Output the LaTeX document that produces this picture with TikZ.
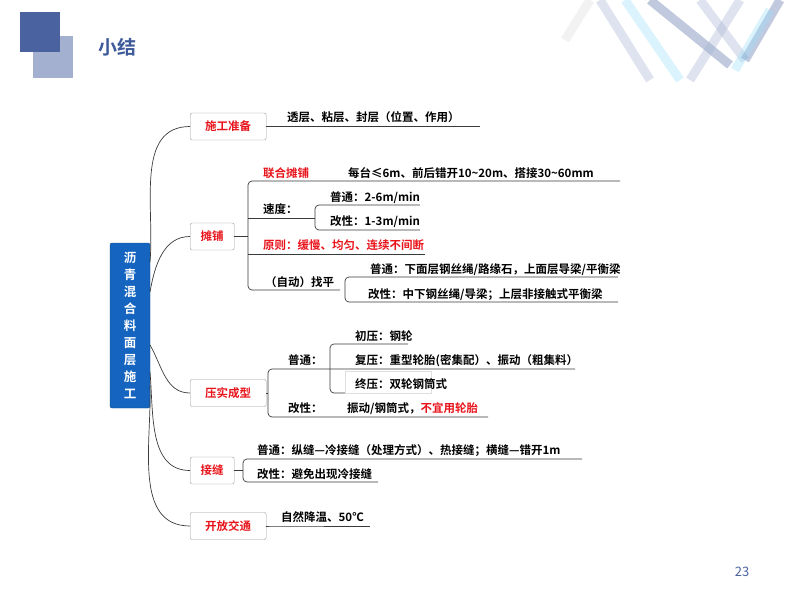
\documentclass[tikz,border=0pt]{standalone}
\usepackage{fontspec}
\setmainfont{Noto Sans CJK SC}[BoldFont={* Bold}]
\newfontfamily\cjkb{Noto Sans CJK SC Bold}
\definecolor{rootblue}{HTML}{1565C0}
\definecolor{titleblue}{HTML}{3F5A9A}
\definecolor{sqdark}{HTML}{4A63A0}
\definecolor{sqlight}{HTML}{A3B0D0}
\definecolor{txtred}{HTML}{E8141B}
\definecolor{lncol}{HTML}{3A3A3A}
\begin{document}
\begin{tikzpicture}[x=1pt,y=-1pt,
  lbox/.style={draw=gray!80,rounded corners=2pt,fill=white,font=\cjkb\fontsize{11.5}{12}\selectfont,text=txtred,minimum height=27pt,inner sep=2pt,anchor=west},
  lbl/.style={font=\cjkb\fontsize{11.5}{12}\selectfont,anchor=base west,inner sep=0pt,text=black},
  ln/.style={draw=lncol,line width=0.7pt},
  br/.style={draw=lncol,line width=0.7pt,rounded corners=4pt}]
\useasboundingbox (0,0) rectangle (800,600);
% header
\fill[sqlight] (33,36) rectangle (73,78);
\fill[sqdark] (20,12) rectangle (60,52);
\node[font=\cjkb\fontsize{19}{20}\selectfont,text=titleblue,anchor=west] (title) at (95,47) {小结};
\begin{scope}[line width=9pt,opacity=0.35]
\draw[sqlight] (600,0) -- (650,80);
\draw[cyan!40] (625,0) -- (680,80);
\draw[sqdark] (650,0) -- (730,65);
\draw[sqlight] (700,0) -- (745,60);
\draw[sqdark] (780,0) -- (745,60);
\draw[cyan!40] (770,10) -- (735,70);
\draw[gray!30] (565,40) -- (590,0);
\draw[sqlight] (690,80) -- (740,0);
\end{scope}
\node[font=\fontsize{13}{14}\selectfont,text=sqdark] (pg) at (742,572) {23};
% root
\node[fill=rootblue,draw=rootblue!70!black,rounded corners=2pt,minimum width=40pt,minimum height=165pt,text=white,font=\cjkb\fontsize{12.5}{17}\selectfont,align=center] (root) at (130,325.5) {沥\\青\\混\\合\\料\\面\\层\\施\\工};
% level 1
\node[lbox,minimum width=76pt] (b1) at (190,126.5) {施工准备};
\node[lbox,minimum width=44pt] (b2) at (190,236.5) {摊铺};
\node[lbox,minimum width=76pt] (b3) at (190,393) {压实成型};
\node[lbox,minimum width=44pt] (b4) at (190,470.5) {接缝};
\node[lbox,minimum width=76pt] (b5) at (190,526) {开放交通};
\draw[ln] (150,262) to[out=85,in=180] (b1.west);
\draw[ln] (150,292) to[out=80,in=180] (b2.west);
\draw[ln] (150,345) to[out=-60,in=180] (b3.west);
\draw[ln] (150,372) to[out=-85,in=180] (b4.west);
\draw[ln] (150,385) to[out=-88,in=180] (b5.west);
% 施工准备
\node[lbl] (t1) at (287,121) {透层、粘层、封层（位置、作用）};
\draw[ln] (b1.east) -- (480,126.5);
% 摊铺
\draw[ln] (b2.east) -- (248,236.5);
\draw[br] (620,181) -- (248,181) -- (248,290) -- (340,290);
\draw[ln] (248,218) -- (315,218);
\draw[ln] (248,254) -- (425,254);
\node[lbl,text=txtred] (lh) at (263,177) {联合摊铺};
\node[lbl] (lh2) at (348,177) {每台≤6m、前后错开10\textasciitilde 20m、搭接30\textasciitilde 60mm};
\node[lbl] (sd) at (263,213) {速度：};
\draw[br] (420,205) -- (315,205) -- (315,230) -- (420,230);
\node[lbl] (sd1) at (330,201) {普通：2-6m/min};
\node[lbl] (sd2) at (330,225) {改性：1-3m/min};
\node[lbl,text=txtred] (yz) at (263,249) {原则：缓慢、均匀、连续不间断};
\node[lbl] (zp) at (265,286) {（自动）找平};
\draw[br] (618,277) -- (345,277) -- (345,302) -- (618,302);
\node[lbl] (zp1) at (370,273) {普通：下面层钢丝绳/路缘石，上面层导梁/平衡梁};
\node[lbl] (zp2) at (368,298) {改性：中下钢丝绳/导梁；上层非接触式平衡梁};
% 压实成型
\draw[ln] (b3.east) -- (268,393);
\draw[br] (575,369) -- (268,369) -- (268,417) -- (488,417);
\node[lbl] (pt) at (288,364) {普通：};
\draw[br] (408,344) -- (330,344) -- (330,393) -- (345,393);
\node[draw=gray!25,inner sep=3pt,minimum height=22pt,anchor=west] (zy) at (345,382) {\phantom{终压：双轮钢筒式}};
\node[lbl] (cy) at (355,340) {初压：钢轮};
\node[lbl] (fy) at (355,364) {复压：重型轮胎(密集配）、振动（粗集料）};
\node[lbl] (zy2) at (355,388) {终压：双轮钢筒式};
\node[lbl] (gx) at (288,412) {改性：};
\node[lbl] (gx2) at (347,412) {振动/钢筒式，\textcolor{txtred}{不宜用轮胎}};
% 接缝
\draw[ln] (b4.east) -- (243,470.5);
\draw[br] (582,459) -- (243,459) -- (243,482) -- (378,482);
\node[lbl] (j1) at (257,454) {普通：纵缝—冷接缝（处理方式）、热接缝；横缝—错开1m};
\node[lbl] (j2) at (257,478) {改性：避免出现冷接缝};
% 开放交通
\draw[br] (b5.east) -- (275,526) -- (370,526);
\node[lbl] (k1) at (281,521) {自然降温、50℃};
\end{tikzpicture}
\end{document}
